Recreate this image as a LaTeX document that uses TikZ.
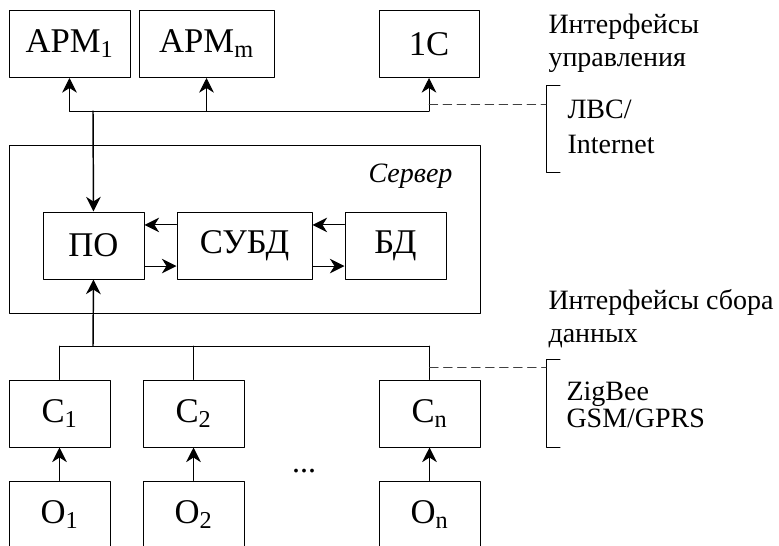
\documentclass[tikz,border=0pt]{standalone}
\usepackage{fontspec}
\setmainfont{Liberation Serif}
\usetikzlibrary{arrows.meta}
\begin{document}
\begin{tikzpicture}[x=0.75pt, y=-0.75pt, line cap=round, line join=round, line width=0.75pt, >={Stealth[length=11pt, width=11pt, inset=3.5pt]}]
	\tikzset{box style/.style={draw, inner sep=0pt, minimum height=50.25pt, font=\fontsize{26}{30}\selectfont},
		label style/.style={inner sep=0pt, anchor=base west, align=left, font=\fontsize{21}{24.75}\selectfont},
		link style/.style={dash pattern=on 6.5pt off 4pt, draw=black!75}}
	\useasboundingbox (0,0) rectangle (779,546);
	% interfaces
	\node[box style, minimum width=90.75pt] (APM1) at (69.5,44) {АРМ\textsubscript{1}};
	\node[box style, minimum width=101.25pt] (APMm) at (206.5,44) {АРМ\textsubscript{m}};
	\node[box style, minimum width=75pt] (OneC) at (429,44) {1С};
	% server
	\node[draw, minimum width=353.25pt, minimum height=126pt] (server) at (244.5,229) {};
	\node[anchor=base east, inner sep=0pt, font=\fontsize{21}{24}\selectfont\itshape] (srvname) at (453,182) {Сервер};
	\node[box style, minimum width=75.75pt] (PO) at (93.5,245.5) {ПО};
	\node[box style, minimum width=101.25pt] (SUBD) at (244.5,245.5) {СУБД};
	\node[box style, minimum width=75.75pt] (BD) at (395.5,245.5) {БД};
	% collectors and objects
	\foreach \i/\x in {1/59.5, 2/193.5, n/429.5} {
		\node[box style, minimum width=75.75pt] (C\i) at (\x,413.5) {С\textsubscript{\i}};
		\node[box style, minimum width=75.75pt] (O\i) at (\x,514.5) {О\textsubscript{\i}};
		\draw[->] (O\i.north) -- (C\i.south);
	}
	\node[inner sep=0pt, anchor=base, font=\fontsize{24}{28}\selectfont] (dots) at (304,472) {...};
	% buses
	\coordinate (top bus) at (93,111);
	\coordinate (bottom bus) at (93,346);
	\draw (APM1.south |- top bus) -- (OneC.south |- top bus);
	\foreach \n in {APM1, APMm, OneC}
		\draw[->] (\n.south |- top bus) -- (\n.south);
	\draw[->, line width=1.1pt] (top bus) -- (PO.north);
	\draw (C1.north |- bottom bus) -- (Cn.north |- bottom bus);
	\foreach \n in {C1, C2, Cn}
		\draw (\n.north |- bottom bus) -- (\n.north);
	\draw[->, line width=1.1pt] (bottom bus) -- (PO.south);
	\draw[->] ([yshift=15.4pt]SUBD.west) -- ([yshift=15.4pt]PO.east);
	\draw[->] ([yshift=-15.4pt]PO.east) -- ([yshift=-15.4pt]SUBD.west);
	\draw[->] ([yshift=15.4pt]BD.west) -- ([yshift=15.4pt]SUBD.east);
	\draw[->] ([yshift=-15.4pt]SUBD.east) -- ([yshift=-15.4pt]BD.west);
	% brackets
	\coordinate (net top) at (546,85);
	\coordinate (net bottom) at (546,172);
	\coordinate (radio top) at (546,359);
	\coordinate (radio bottom) at (546,447);
	\draw (560,85) -- (net top) -- (net bottom) -- (560,172);
	\draw (560,359) -- (radio top) -- (radio bottom) -- (560,447);
	\draw[link style] (OneC.south |- 0,104) -- (net top |- 0,104);
	\draw[link style] (Cn.north |- 0,367) -- (radio top |- 0,367);
	% texts (base = last line)
	\node[label style] (ctrl) at (548,66) {Интерфейсы\\управления};
	\node[label style, font=\fontsize{21}{26.25}\selectfont] (net) at (567,153) {ЛВС/\\Internet};
	\node[label style] (collect) at (548,342) {Интерфейсы сбора\\данных};
	\node[label style, font=\fontsize{21}{20.25}\selectfont] (radio) at (566,427) {ZigBee\\GSM/GPRS};
\end{tikzpicture}
\end{document}
